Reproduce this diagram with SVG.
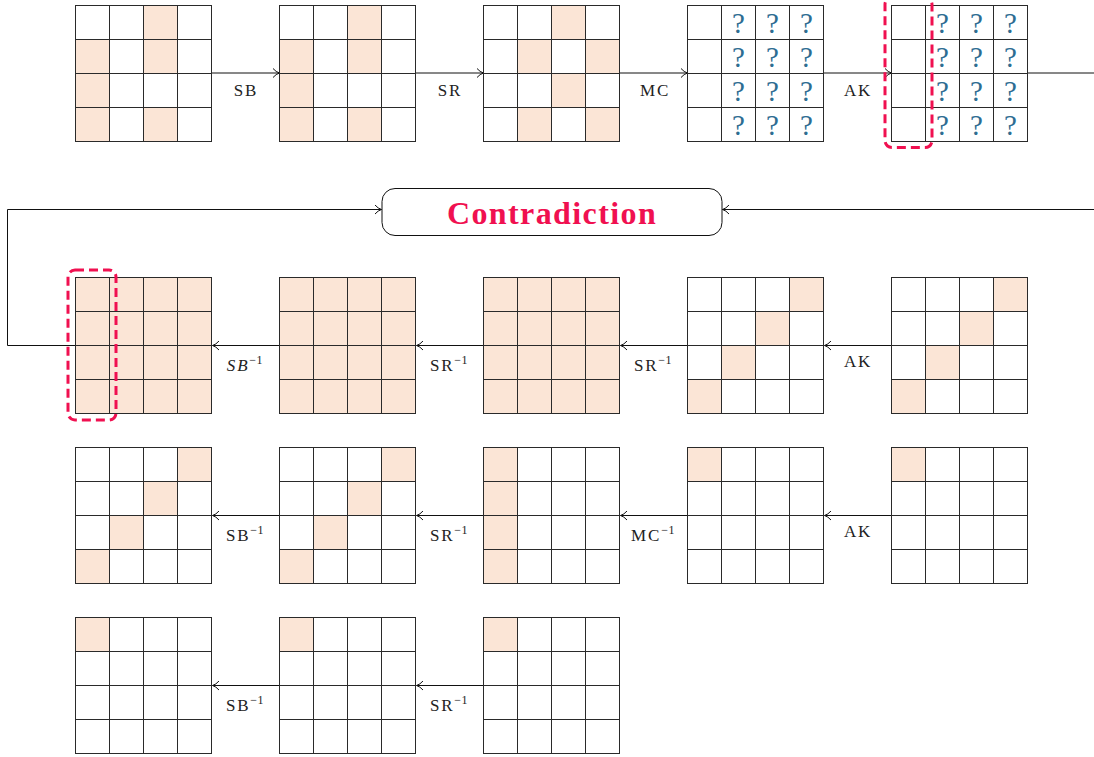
<svg xmlns="http://www.w3.org/2000/svg" width="1094" height="757" viewBox="0 0 1094 757">
<style>
.a{fill:#fbe5d6}
.gl{fill:none;stroke:#2a2a2a;stroke-width:1}
.q{font-family:"Liberation Serif","DejaVu Serif",serif;font-size:29px;fill:#2e6d92;text-anchor:middle}
.lb{font-family:"Liberation Serif","DejaVu Serif",serif;font-size:17px;fill:#222;text-anchor:middle;letter-spacing:1.8px}
.sup{font-size:12px;letter-spacing:0.5px}
.it{font-style:italic}
.cn{fill:none;stroke:#111;stroke-width:1}
.red{fill:none;stroke:#f01050;stroke-width:3;stroke-dasharray:9 5}
.ct{font-family:"Liberation Serif","DejaVu Serif",serif;font-size:32px;font-weight:bold;fill:#f01050;text-anchor:middle;letter-spacing:1.4px}
</style>
<defs>
<g id="grid">
<rect class="gl" x="0" y="0" width="136" height="136"/>
<path class="gl" d="M34,0V136M68,0V136M102,0V136M0,34H136M0,68H136M0,102H136"/>
</g>
<marker id="ah" viewBox="0 0 8 10" refX="7.5" refY="5" markerWidth="8" markerHeight="10" markerUnits="userSpaceOnUse" orient="auto">
<path d="M1,0.5 Q4,4 7.5,5 Q4,6 1,9.5" fill="none" stroke="#111" stroke-width="1"/>
</marker>
<g id="qcol">
<text class="q" x="0" y="27">?</text>
<text class="q" x="0" y="61">?</text>
<text class="q" x="0" y="95">?</text>
<text class="q" x="0" y="129">?</text>
</g>
</defs>
<rect width="1094" height="757" fill="#fff"/>

<g id="connectors">
<path class="cn" d="M212,73H279.5" marker-end="url(#ah)"/>
<path class="cn" d="M416,73H483.5" marker-end="url(#ah)"/>
<path class="cn" d="M620,73H687.5" marker-end="url(#ah)"/>
<path class="cn" d="M824,73H891.5" marker-end="url(#ah)"/>
<path class="cn" d="M1028,73H1094"/>
<path class="cn" d="M1094,209.5H722.5" marker-end="url(#ah)"/>
<path class="cn" d="M76,345.5H7.5V209.5H381.5" marker-end="url(#ah)"/>
<path class="cn" d="M892,345.5H824.5" marker-end="url(#ah)"/>
<path class="cn" d="M688,345.5H620.5" marker-end="url(#ah)"/>
<path class="cn" d="M484,345.5H416.5" marker-end="url(#ah)"/>
<path class="cn" d="M280,345.5H212.5" marker-end="url(#ah)"/>
<path class="cn" d="M892,515.5H824.5" marker-end="url(#ah)"/>
<path class="cn" d="M688,515.5H620.5" marker-end="url(#ah)"/>
<path class="cn" d="M484,515.5H416.5" marker-end="url(#ah)"/>
<path class="cn" d="M280,515.5H212.5" marker-end="url(#ah)"/>
<path class="cn" d="M484,685.5H416.5" marker-end="url(#ah)"/>
<path class="cn" d="M280,685.5H212.5" marker-end="url(#ah)"/>
</g>

<g id="labels">
<text class="lb" x="246" y="96">SB</text>
<text class="lb" x="450" y="96">SR</text>
<text class="lb" x="655" y="96">MC</text>
<text class="lb" x="858" y="96">AK</text>
<text class="lb" x="245" y="371"><tspan class="it">SB</tspan><tspan class="sup" dy="-7">−1</tspan></text>
<text class="lb" x="449" y="371">SR<tspan class="sup" dy="-7">−1</tspan></text>
<text class="lb" x="653" y="371">SR<tspan class="sup" dy="-7">−1</tspan></text>
<text class="lb" x="858" y="367">AK</text>
<text class="lb" x="245" y="541">SB<tspan class="sup" dy="-7">−1</tspan></text>
<text class="lb" x="449" y="541">SR<tspan class="sup" dy="-7">−1</tspan></text>
<text class="lb" x="653" y="541">MC<tspan class="sup" dy="-7">−1</tspan></text>
<text class="lb" x="858" y="537">AK</text>
<text class="lb" x="245" y="711">SB<tspan class="sup" dy="-7">−1</tspan></text>
<text class="lb" x="449" y="711">SR<tspan class="sup" dy="-7">−1</tspan></text>
</g>

<g id="contradiction">
<rect x="382" y="188.5" width="340" height="47" rx="13" fill="#fff" stroke="#111" stroke-width="1"/>
<text class="ct" x="552" y="224">Contradiction</text>
</g>

<!-- Row 1 -->
<g id="r1g1" transform="translate(75.5,5.5)">
<rect class="a" x="68" y="0" width="34" height="34"/>
<rect class="a" x="0" y="34" width="34" height="34"/>
<rect class="a" x="68" y="34" width="34" height="34"/>
<rect class="a" x="0" y="68" width="34" height="34"/>
<rect class="a" x="0" y="102" width="34" height="34"/>
<rect class="a" x="68" y="102" width="34" height="34"/>
<use href="#grid"/>
</g>
<g id="r1g2" transform="translate(279.5,5.5)">
<rect class="a" x="68" y="0" width="34" height="34"/>
<rect class="a" x="0" y="34" width="34" height="34"/>
<rect class="a" x="68" y="34" width="34" height="34"/>
<rect class="a" x="0" y="68" width="34" height="34"/>
<rect class="a" x="0" y="102" width="34" height="34"/>
<rect class="a" x="68" y="102" width="34" height="34"/>
<use href="#grid"/>
</g>
<g id="r1g3" transform="translate(483.5,5.5)">
<rect class="a" x="68" y="0" width="34" height="34"/>
<rect class="a" x="34" y="34" width="34" height="34"/>
<rect class="a" x="102" y="34" width="34" height="34"/>
<rect class="a" x="68" y="68" width="34" height="34"/>
<rect class="a" x="34" y="102" width="34" height="34"/>
<rect class="a" x="102" y="102" width="34" height="34"/>
<use href="#grid"/>
</g>
<g id="r1g4" transform="translate(687.5,5.5)">
<use href="#grid"/>
<use href="#qcol" x="51"/>
<use href="#qcol" x="85"/>
<use href="#qcol" x="119"/>
</g>
<g id="r1g5" transform="translate(891.5,5.5)">
<use href="#grid"/>
<use href="#qcol" x="51"/>
<use href="#qcol" x="85"/>
<use href="#qcol" x="119"/>
<rect class="red" x="-6.5" y="-8" width="47" height="150" rx="7"/>
</g>

<!-- Row 2 -->
<g id="r2g1" transform="translate(75.5,277.5)">
<rect class="a" x="0" y="0" width="136" height="136"/>
<use href="#grid"/>
<rect class="red" x="-7.5" y="-7.5" width="48" height="150" rx="7"/>
</g>
<g id="r2g2" transform="translate(279.5,277.5)">
<rect class="a" x="0" y="0" width="136" height="136"/>
<use href="#grid"/>
</g>
<g id="r2g3" transform="translate(483.5,277.5)">
<rect class="a" x="0" y="0" width="136" height="136"/>
<use href="#grid"/>
</g>
<g id="r2g4" transform="translate(687.5,277.5)">
<rect class="a" x="102" y="0" width="34" height="34"/>
<rect class="a" x="68" y="34" width="34" height="34"/>
<rect class="a" x="34" y="68" width="34" height="34"/>
<rect class="a" x="0" y="102" width="34" height="34"/>
<use href="#grid"/>
</g>
<g id="r2g5" transform="translate(891.5,277.5)">
<rect class="a" x="102" y="0" width="34" height="34"/>
<rect class="a" x="68" y="34" width="34" height="34"/>
<rect class="a" x="34" y="68" width="34" height="34"/>
<rect class="a" x="0" y="102" width="34" height="34"/>
<use href="#grid"/>
</g>

<!-- Row 3 -->
<g id="r3g1" transform="translate(75.5,447.5)">
<rect class="a" x="102" y="0" width="34" height="34"/>
<rect class="a" x="68" y="34" width="34" height="34"/>
<rect class="a" x="34" y="68" width="34" height="34"/>
<rect class="a" x="0" y="102" width="34" height="34"/>
<use href="#grid"/>
</g>
<g id="r3g2" transform="translate(279.5,447.5)">
<rect class="a" x="102" y="0" width="34" height="34"/>
<rect class="a" x="68" y="34" width="34" height="34"/>
<rect class="a" x="34" y="68" width="34" height="34"/>
<rect class="a" x="0" y="102" width="34" height="34"/>
<use href="#grid"/>
</g>
<g id="r3g3" transform="translate(483.5,447.5)">
<rect class="a" x="0" y="0" width="34" height="136"/>
<use href="#grid"/>
</g>
<g id="r3g4" transform="translate(687.5,447.5)">
<rect class="a" x="0" y="0" width="34" height="34"/>
<use href="#grid"/>
</g>
<g id="r3g5" transform="translate(891.5,447.5)">
<rect class="a" x="0" y="0" width="34" height="34"/>
<use href="#grid"/>
</g>

<!-- Row 4 -->
<g id="r4g1" transform="translate(75.5,617.5)">
<rect class="a" x="0" y="0" width="34" height="34"/>
<use href="#grid"/>
</g>
<g id="r4g2" transform="translate(279.5,617.5)">
<rect class="a" x="0" y="0" width="34" height="34"/>
<use href="#grid"/>
</g>
<g id="r4g3" transform="translate(483.5,617.5)">
<rect class="a" x="0" y="0" width="34" height="34"/>
<use href="#grid"/>
</g>
</svg>
